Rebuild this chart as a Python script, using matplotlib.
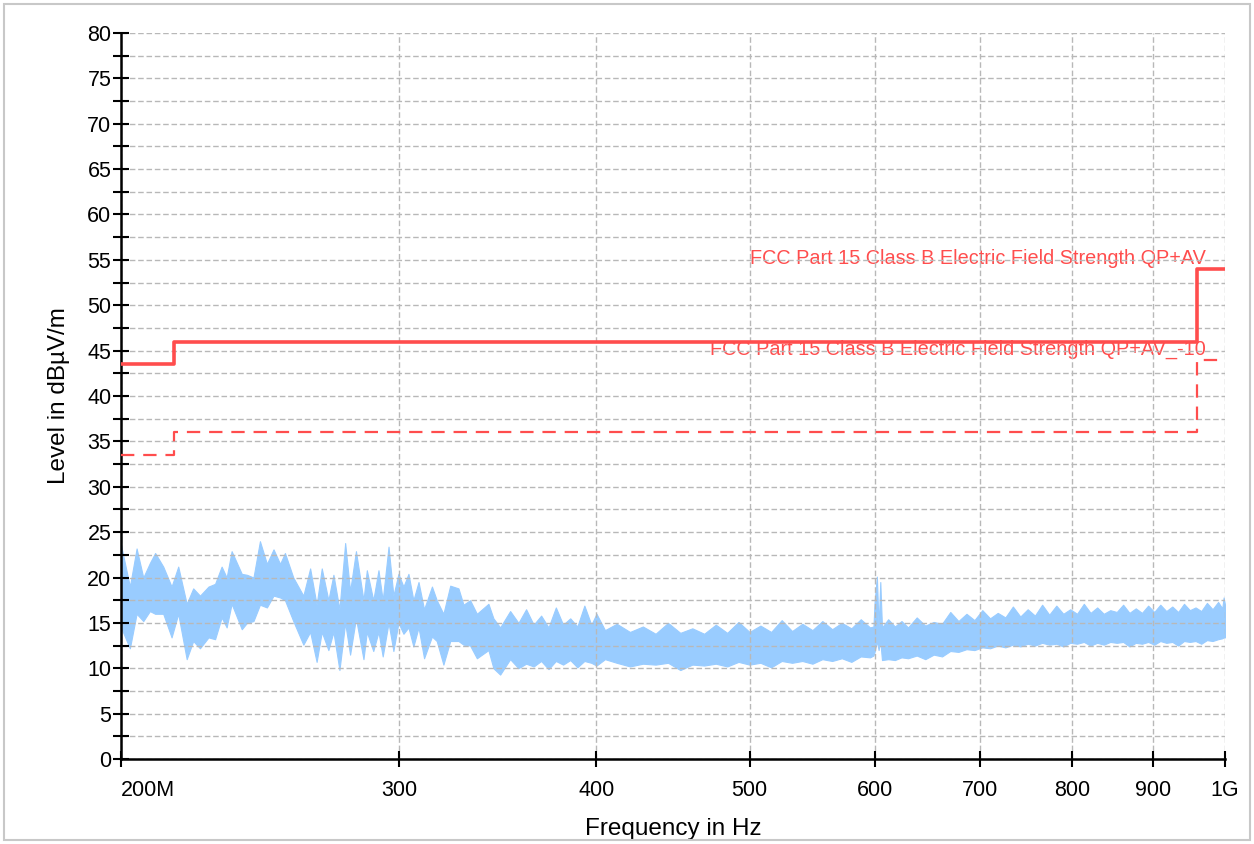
import matplotlib
matplotlib.use("Agg")
import matplotlib.pyplot as plt
from matplotlib.patches import Rectangle

plt.rcParams['font.family'] = ['Liberation Sans', 'DejaVu Sans']

# limit lines (MHz, dBuV/m)
limit_f = [200, 216, 216, 960, 960, 1000]
limit_qp = [43.5, 43.5, 46, 46, 54, 54]
limit_av = [33.5, 33.5, 36, 36, 44, 44]
label_qp = "FCC Part 15 Class B Electric Field Strength QP+AV"
label_av = "FCC Part 15 Class B Electric Field Strength QP+AV_-10"

# measured trace, read as local min / max of the dense sweep
trace_f = [200, 202.6, 204.6, 206.6, 208.6, 210.2, 212.7, 215.3, 217.4, 220.1,
           222.2, 224.4, 227.2, 229.4, 231.6, 233.3, 235.0, 238.5, 240.3, 242.6,
           244.9, 247.4, 249.8, 252.2, 254.0, 257.1, 260.9, 263.5, 266.0, 268.0,
           270.6, 272.6, 275.0, 277.3, 279.3, 281.7, 284.8, 286.2, 288.9, 291.1,
           292.9, 295.4, 297.5, 299.7, 301.9, 304.1, 306.3, 308.6, 311.1, 314.7,
           316.9, 320.0, 323.2, 327.1, 329.5, 332.7, 336.0, 341.7, 344.2, 347.6,
           352.7, 357, 361, 365, 369, 373, 377, 381, 385, 389, 393, 397, 400,
           405, 412, 420, 428, 436, 444, 452, 460, 468, 476, 484, 492, 500, 508,
           516, 524, 532, 540, 548, 556, 564, 572, 580, 588, 596, 599,
           600, 602, 603.5, 605, 606.5,
           612, 618, 624, 630, 638, 646, 654, 662,
           670, 678, 686, 694, 702, 710, 718, 726, 734, 742, 750, 758, 766, 774,
           782, 790, 798, 806, 814, 822, 830, 838, 846, 854, 862, 870, 878, 886,
           894, 902, 910, 918, 926, 934, 942, 950, 958, 966, 974, 982, 990, 996,
           998, 1000]
trace_hi = [23.6, 19.0, 23.2, 20.0, 21.6, 22.7, 21.2, 19.0, 21.2, 17.1,
            18.8, 18.0, 19.0, 19.3, 21.2, 20.0, 22.9, 20.4, 20.3, 20.0,
            24.0, 21.5, 23.1, 21.5, 22.7, 20.0, 18.0, 21.0, 17.0, 21.0,
            17.5, 20.3, 16.5, 23.8, 18.5, 22.9, 17.5, 20.8, 17.5, 20.8,
            17.5, 23.4, 18.0, 20.4, 19.0, 20.4, 17.5, 19.5, 16.5, 19.0,
            17.5, 16.0, 19.1, 18.8, 17.0, 17.5, 16.0, 17.1, 15.5, 14.5,
            16.3, 15.0, 16.5, 14.8, 15.8, 14.5, 16.7, 14.8, 15.5, 14.6, 16.9, 14.8, 16.0,
            14.2, 14.9, 14.0, 14.6, 13.8, 15.0, 13.9, 14.4, 13.8, 14.8, 13.9, 15.1, 14.0, 14.7,
            14.0, 15.3, 14.1, 14.9, 14.2, 15.2, 14.3, 15.0, 14.4, 15.4, 14.5, 14.6,
            17.3, 20.1, 14.5, 19.5, 14.5,
            15.4, 14.6, 15.2, 14.5, 15.6, 14.7, 15.1, 14.9,
            16.2, 15.2, 16.0, 15.3, 16.4, 15.5, 16.1, 15.6, 16.8, 15.7, 16.5, 15.8, 17.0, 15.9,
            16.9, 16.0, 16.5, 16.0, 17.1, 16.1, 16.7, 16.0, 16.4, 16.2, 17.0, 16.1, 16.6, 16.1,
            16.9, 16.2, 17.0, 16.3, 16.8, 16.2, 17.1, 16.4, 16.7, 16.3, 17.2, 16.5, 17.3, 16.6,
            17.8, 17.0]
trace_lo = [14.5, 12.2, 16.0, 15.2, 16.3, 16.0, 16.0, 13.4, 16.0, 11.0,
            13.0, 12.2, 13.4, 13.2, 15.6, 14.5, 17.1, 14.3, 15.0, 15.2,
            17.0, 16.7, 18.0, 17.8, 17.5, 15.2, 12.6, 14.0, 10.7, 14.0,
            12.0, 14.0, 9.8, 15.0, 11.5, 15.5, 11.0, 14.0, 11.9, 14.0,
            11.3, 15.0, 11.9, 15.0, 13.8, 14.5, 12.4, 14.5, 11.1, 13.5,
            13.0, 10.4, 13.0, 13.0, 12.6, 12.5, 11.1, 12.0, 10.0, 9.3,
            11.0, 10.0, 10.5, 10.2, 10.8, 9.9, 10.8, 10.4, 10.9, 10.1, 10.8, 10.6, 10.3,
            11.0, 10.6, 10.2, 10.5, 10.4, 10.6, 9.8, 10.4, 10.3, 10.5, 10.2, 10.7, 10.4, 10.6,
            10.1, 10.8, 10.6, 10.8, 10.5, 11.0, 10.8, 11.1, 10.7, 11.3, 11.2, 11.4,
            11.8, 13.0, 12.0, 13.0, 10.9,
            11.0, 10.9, 11.2, 11.1, 11.4, 11.0, 11.5, 11.3,
            11.9, 11.8, 12.1, 12.0, 12.3, 12.2, 12.5, 12.3, 12.6, 12.4, 12.7, 12.5, 12.8, 12.6,
            12.7, 12.4, 12.8, 12.7, 12.9, 12.5, 12.8, 12.6, 12.9, 12.8, 12.9, 12.4, 12.8, 12.7,
            12.9, 12.6, 13.0, 12.8, 12.9, 12.5, 13.0, 12.9, 13.0, 12.7, 13.1, 13.0, 13.2, 13.3,
            13.4, 13.4]

x_ticks = [200, 300, 400, 500, 600, 700, 800, 900, 1000]
x_tick_labels = ["200M", "300", "400", "500", "600", "700", "800", "900", "1G"]
y_ticks = list(range(0, 81, 5))

trace_color = "#99ccff"
limit_color = "#ff4d4d"

fig = plt.figure(figsize=(12.54, 8.44), dpi=100)
ax = fig.add_axes([121 / 1254, 1 - 759 / 844, 1104 / 1254, 726 / 844])

# light frame round the whole picture
fig.patches.append(Rectangle((4 / 1254, 4 / 844), 1246 / 1254, 836 / 844,
                             transform=fig.transFigure, fill=False,
                             edgecolor="#c8c8c8", lw=1.5))

ax.fill_between(trace_f, trace_lo, trace_hi, color=trace_color, lw=0.8, zorder=1)

ax.plot(limit_f, limit_qp, color=limit_color, lw=2.6, zorder=3)
ax.plot(limit_f, limit_av, color=limit_color, lw=1.6, ls=(0, (6, 4)), zorder=3)

ax.text(972, 55.1, label_qp, color=limit_color, fontsize=14.3, ha='right', va='center', zorder=1)
ax.text(972, 45.1, label_av, color=limit_color, fontsize=14.3, ha='right', va='center', zorder=1)

ax.set_xscale('log')
ax.set_xlim(200, 1000)
ax.set_ylim(0, 80)
ax.set_xticks(x_ticks)
ax.set_xticklabels(x_tick_labels)
ax.xaxis.set_minor_locator(plt.NullLocator())
ax.set_yticks(y_ticks)
ax.set_yticks([v + 2.5 for v in y_ticks[:-1]], minor=True)

ax.grid(True, which='both', color='#b8b8b8', ls=(0, (4, 2)), lw=1.0)
ax.set_axisbelow('line')

for s in ['top', 'right']:
    ax.spines[s].set_visible(False)
for s in ['left', 'bottom']:
    ax.spines[s].set_linewidth(1.8)

ax.tick_params(axis='both', which='both', direction='inout', length=12, width=1.5,
               labelsize=15.5, colors='black')
ax.tick_params(axis='y', which='both', pad=1)
ax.tick_params(axis='x', which='both', pad=9)
ax.get_xticklabels()[0].set_horizontalalignment('left')

ax.set_xlabel("Frequency in Hz", fontsize=17.5, labelpad=12)
ax.set_ylabel("Level in dBµV/m", fontsize=17.5, labelpad=12)

fig.savefig("out.png", dpi=100)
